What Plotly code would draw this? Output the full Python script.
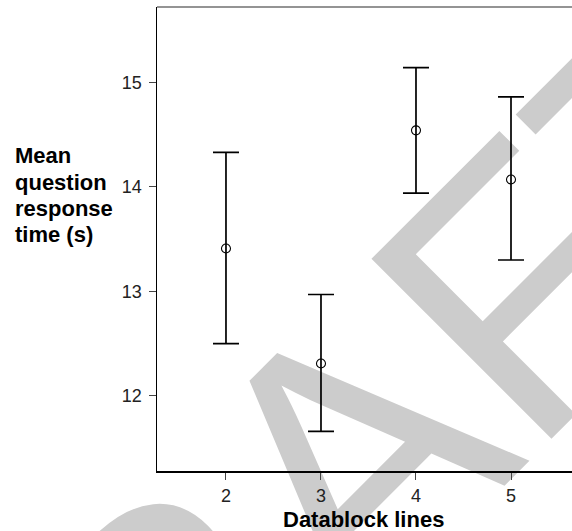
import plotly.graph_objects as go

# Data
datablock_lines = [2, 3, 4, 5]
mean_rt = [13.41, 12.31, 14.54, 14.07]
upper_ci = [14.33, 12.97, 15.14, 14.86]
lower_ci = [12.50, 11.66, 13.94, 13.30]
x_ticks = [2, 3, 4, 5]
y_ticks = [12, 13, 14, 15]
y_title_lines = ["Mean", "question", "response", "time (s)"]
x_title = "Datablock lines"
watermark = "DRAFT"

W, H = 572, 531
ML, MR, MT, MB = 157, 0, 7, 60
PW, PH = W - ML - MR, H - MT - MB

def px_x(p):
    return (p - ML) / PW

def px_y(p):
    return (H - MB - p) / PH

FONT = "Liberation Sans, Arial, Helvetica, sans-serif"

err_plus = [u - m for u, m in zip(upper_ci, mean_rt)]
err_minus = [m - l for m, l in zip(mean_rt, lower_ci)]

fig = go.Figure()
fig.add_trace(go.Scatter(
    x=datablock_lines, y=mean_rt, mode="markers",
    marker=dict(symbol="circle-open", size=9, color="black", line=dict(width=1.1, color="black")),
    error_y=dict(type="data", symmetric=False, array=err_plus, arrayminus=err_minus,
                 color="black", thickness=1.7, width=13),
    showlegend=False, hoverinfo="skip",
))

annotations = []
baselines = [162.7, 189.5, 215.8, 241.7]
for txt, b in zip(y_title_lines, baselines):
    annotations.append(dict(
        text=f"<b>{txt}</b>", xref="paper", yref="paper",
        x=px_x(13), y=px_y(b - 7.5), xanchor="left", yanchor="middle",
        showarrow=False, align="left",
        font=dict(family=FONT, size=22, color="black"),
    ))
annotations.append(dict(
    text=f"<b>{x_title}</b>", xref="paper", yref="paper",
    x=px_x(363.5), y=px_y(519), xanchor="center", yanchor="middle",
    showarrow=False, font=dict(family=FONT, size=22, color="black"),
))

shapes = [
    # watermark (beneath everything)
    dict(type="rect", xref="paper", yref="paper", layer="below",
         x0=px_x(297), x1=px_x(299), y0=px_y(462), y1=px_y(460),
         line=dict(width=0), fillcolor="rgba(0,0,0,0)",
         label=dict(text=watermark, textangle=-45, textposition="middle center",
                    font=dict(family=FONT, size=370, color="#cccccc"))),
    # top frame line
    dict(type="line", xref="paper", yref="paper", x0=0, x1=1, y0=1, y1=1,
         line=dict(color="#707070", width=1.5)),
]

fig.update_layout(
    width=W, height=H,
    margin=dict(l=ML, r=MR, t=MT, b=MB, pad=0),
    paper_bgcolor="white", plot_bgcolor="rgba(0,0,0,0)",
    font=dict(family=FONT, size=18, color="#222222"),
    annotations=annotations, shapes=shapes,
    xaxis=dict(range=[1.274, 5.642], tickvals=x_ticks, ticks="outside", ticklen=7,
               tickwidth=1, tickcolor="#444444", showgrid=False, zeroline=False,
               showline=True, linecolor="black", linewidth=2,
               tickfont=dict(family=FONT, size=18, color="#222222")),
    yaxis=dict(range=[11.2815, 15.720], tickvals=y_ticks, ticks="outside", ticklen=7,
               tickwidth=1, tickcolor="#444444", showgrid=False, zeroline=False,
               showline=True, linecolor="black", linewidth=1.5, ticklabelstandoff=3,
               tickfont=dict(family=FONT, size=18, color="#222222")),
)

fig.write_html("out.html",
               config={"displayModeBar": False, "staticPlot": True},
               post_script="document.body.style.margin='0';document.body.style.overflow='hidden';")
